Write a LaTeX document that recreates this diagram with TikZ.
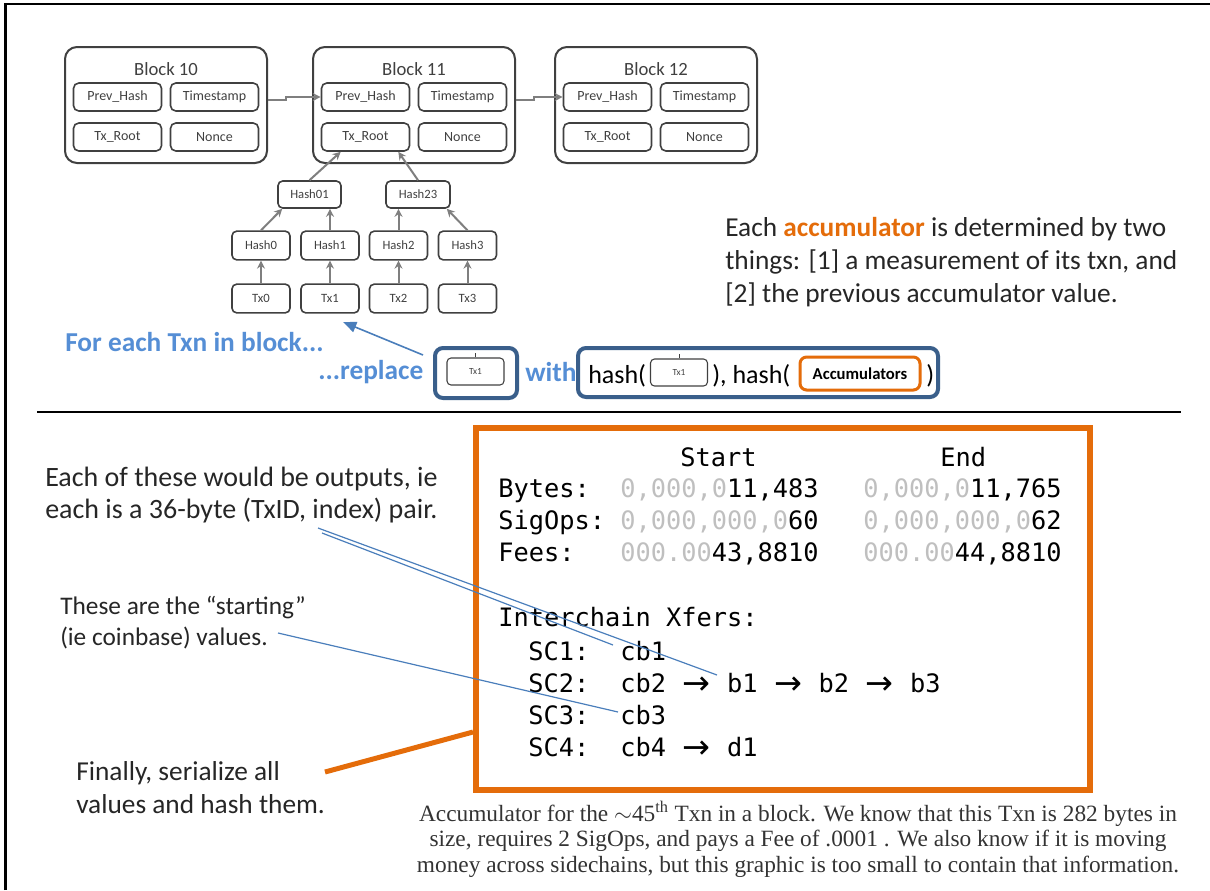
\documentclass[tikz,border=0pt]{standalone}
\usepackage{fontspec}
\setmainfont{Carlito}
\newfontfamily\monof{DejaVu Sans Mono}
\newfontfamily\seriff{Liberation Serif}
\newfontfamily\symf{DejaVu Sans}
\usetikzlibrary{arrows.meta,calc}
\definecolor{accorange}{HTML}{E46C0A}
\definecolor{boxblue}{HTML}{3A5F8B}
\definecolor{txtblue}{HTML}{558ED5}
\definecolor{lineblue}{HTML}{4A7EBB}
\definecolor{boxgray}{HTML}{404040}
\definecolor{arrgray}{HTML}{7F7F7F}
\definecolor{lgray}{HTML}{BFBFBF}
\newcommand\setfs[1]{\fontsize{#1pt}{#1pt}\selectfont}
\newcommand\arrbox{\makebox[22.9pt]{\raisebox{-1.5pt}{\symf\setfs{25}→}}}
\begin{document}
\begin{tikzpicture}[x=0.75pt,y=-0.75pt,
  blockbox/.style={draw=boxgray,line width=1.5pt,rounded corners=9pt,minimum width=151.5pt,minimum height=87pt,inner sep=0pt},
  blocktitle/.style={font=\setfs{14},text=boxgray,inner sep=0pt},
  fieldbox/.style={draw=boxgray,line width=1.2pt,rounded corners=4pt,minimum width=66pt,minimum height=21pt,inner sep=0pt,font=\setfs{10.5},text=boxgray},
  mbox/.style={draw=boxgray,line width=1.2pt,rounded corners=3.5pt,minimum width=43.5pt,minimum height=21.5pt,inner sep=0pt,font=\setfs{9.5},text=boxgray},
  garrow/.style={draw=arrgray,line width=1.5pt,-{Stealth[length=6pt,width=6pt]}},
  txt/.style={anchor=base west,inner sep=0pt},
  bigtxt/.style={txt,font=\setfs{20.5},text=black!85},
  bluetxt/.style={txt,font=\setfs{20.5}\bfseries,text=txtblue},
  mono/.style={txt,font=\monof\setfs{19}},
  caption/.style={anchor=base,inner sep=0pt,font=\seriff\setfs{17.5},text=black!80},
  bluebox/.style={draw=boxblue,line width=3pt,rounded corners=6pt,inner sep=0pt},
  smalltx/.style={draw=boxgray,line width=0.8pt,rounded corners=3pt,minimum width=42.75pt,minimum height=20.25pt,inner sep=0pt,font=\setfs{7},text=boxgray},
  note/.style={draw=lineblue,line width=0.9pt}
]
\useasboundingbox (0,0) rectangle (1210,890);
% frame
\draw[line width=2.2pt] (5.5,890) -- (5.5,4) -- (1210,4);

% blocks
\foreach \id/\L in {10/65,11/313,12/555}{
  \node[blockbox] (b\id) at (\L+101,105) {};
  \node[blocktitle] (t\id) at (\L+101,69) {Block \id};
  \node[fieldbox] (ph\id) at (\L+52.5,97) {Prev\_Hash};
  \node[fieldbox] (ts\id) at (\L+149.5,97) {Timestamp};
  \node[fieldbox] (tr\id) at (\L+52.5,137) {Tx\_Root};
  \node[fieldbox] (nc\id) at (\L+149.5,137) {Nonce};
}
\draw[garrow] (b10.east|-ph11.west) ++(0,3) -- ++(18,0) |- (ph11.west);
\draw[garrow] (b11.east|-ph12.west) ++(0,3) -- ++(18,0) |- (ph12.west);

% merkle tree
\node[mbox,minimum width=47.25pt,minimum height=20.25pt] (h01) at (309.5,194.5) {Hash01};
\node[mbox,minimum width=48pt,minimum height=20.25pt] (h23) at (418,194.5) {Hash23};
\foreach \i/\x in {0/261,1/330,2/398.5,3/467.5}{
  \node[mbox] (h\i) at (\x,245.5) {Hash\i};
  \node[mbox] (tx\i) at (\x,298.5) {Tx\i};
  \draw[garrow] (tx\i) -- (h\i);
}
\draw[garrow] (h0.north) -- ($(h01.south west)+(5,0)$);
\draw[garrow] (h1.north) -- (h1.north|-h01.south);
\draw[garrow] (h2.north) -- (h2.north|-h23.south);
\draw[garrow] (h3.north) -- ($(h23.south east)+(-4,0)$);
\draw[garrow] (h01.north) -- ($(tr11.south west)+(20,0)$);
\draw[garrow] (h23.north) -- ($(tr11.south east)+(-12,0)$);

% right explanatory text
\node[bigtxt] (acc1) at (725,236) {Each {\bfseries\color{accorange}accumulator} is determined by two};
\node[bigtxt] (acc2) at (725,269) {things: [1] a measurement of its txn, and};
\node[bigtxt] (acc3) at (725,302) {[2] the previous accumulator value.};

% replace row
\node[bluetxt] (fe) at (65,351) {For each Txn in block...};
\node[bluetxt] (rep) at (318,379) {...replace};
\node[bluetxt] (with) at (525,381) {with};
\coordinate (arrs) at (423,355);
\coordinate (arre) at (343,322);
\draw[lineblue,line width=1.2pt,-{Triangle[length=10pt,width=8pt]}] (arrs) -- (arre);

\node[bluebox,minimum width=61.5pt,minimum height=37.5pt] (repbox) at (476,373) {};
\node[smalltx] (txa) at (475.5,371.5) {Tx1};
\draw[boxgray,line width=0.6pt] (txa.north) -- ++(0,-4);

\node[bluebox,minimum width=270pt,minimum height=36.75pt] (withbox) at (758,372.5) {};
\node[txt,font=\setfs{19.5}] (hs1) at (588,383) {hash(};
\node[smalltx] (txb) at (679,372.5) {Tx1};
\draw[boxgray,line width=0.6pt] (txb.north) -- ++(0,-4);
\node[txt,font=\setfs{19.5}] (hs2) at (712,383) {), hash(};
\node[draw=accorange,line width=2.25pt,rounded corners=5pt,minimum width=90pt,minimum height=24.75pt,inner sep=0pt,font=\setfs{12.5}\bfseries] (accb) at (860,373.5) {Accumulators};
\node[txt,font=\setfs{19.5}] (hs3) at (926,383) {)};

% separator
\coordinate (sepL) at (37,412);
\coordinate (sepR) at (1181,412);
\draw[line width=1.1pt] (sepL) -- (sepR);

% accumulator box
\node[draw=accorange,line width=4.5pt,minimum width=460.5pt,minimum height=271.5pt,inner sep=0pt] (accbox) at (783,609) {};
\node[mono] (cs) at (680,466) {Start};
\node[mono] (ce) at (940,466) {End};
\node[mono] (rb) at (498,497) {Bytes:};
\node[mono] (rbs) at (620,497) {{\color{lgray}0,000,0}11,483};
\node[mono] (rbe) at (863,497) {{\color{lgray}0,000,0}11,765};
\node[mono] (rs) at (498,529) {SigOps:};
\node[mono] (rss) at (620,529) {{\color{lgray}0,000,000,0}60};
\node[mono] (rse) at (863,529) {{\color{lgray}0,000,000,0}62};
\node[mono] (rf) at (498,561) {Fees:};
\node[mono] (rfs) at (620,561) {{\color{lgray}000.00}43,8810};
\node[mono] (rfe) at (863,561) {{\color{lgray}000.00}44,8810};
\node[mono] (ix) at (498,626) {Interchain Xfers:};
\node[mono] (sc1) at (528,660) {SC1:};
\node[mono] (v1) at (620,660) {cb1};
\node[mono] (sc2) at (528,692) {SC2:};
\node[mono] (v2) at (620,692) {cb2~\arrbox~b1~\arrbox~b2~\arrbox~b3};
\node[mono] (sc3) at (528,724) {SC3:};
\node[mono] (v3) at (620,724) {cb3};
\node[mono] (sc4) at (528,756) {SC4:};
\node[mono] (v4) at (620,756) {cb4~\arrbox~d1};

% left notes
\node[bigtxt,font=\setfs{21}] (n1a) at (45,486) {Each of these would be outputs, ie};
\node[bigtxt,font=\setfs{21}] (n1b) at (45,518) {each is a 36-byte (TxID, index) pair.};
\node[txt,font=\setfs{19},text=black!85] (n2a) at (60,614) {These are the “starting”};
\node[txt,font=\setfs{19},text=black!85] (n2b) at (60,645) {(ie coinbase) values.};
\node[bigtxt] (n3a) at (76,780) {Finally, serialize all};
\node[bigtxt] (n3b) at (76,813) {values and hash them.};

\coordinate (la) at (318,528);
\coordinate (lb) at (322,533);
\coordinate (lc) at (278,633);
\coordinate (pb1) at (717,675);
\coordinate (pcb1) at (613,645);
\coordinate (pcb3) at (618,712);
\draw[note] (la) -- (pb1);
\draw[note] (lb) -- (pcb1);
\draw[note] (lc) -- (pcb3);
\coordinate (fin) at (325,772);
\coordinate (hit) at ($(accbox.west)+(0,123)$);
\draw[accorange,line width=3.75pt] (fin) -- (hit);

% caption
\node[caption] (cap1) at (798,821) {Accumulator for the \raisebox{0pt}{$\sim$}45\textsuperscript{th} Txn in a block. We know that this Txn is 282 bytes in};
\node[caption] (cap2) at (798,846) {size, requires 2 SigOps, and pays a Fee of .0001 . We also know if it is moving};
\node[caption] (cap3) at (798,872) {money across sidechains, but this graphic is too small to contain that information.};
\end{tikzpicture}
\end{document}
